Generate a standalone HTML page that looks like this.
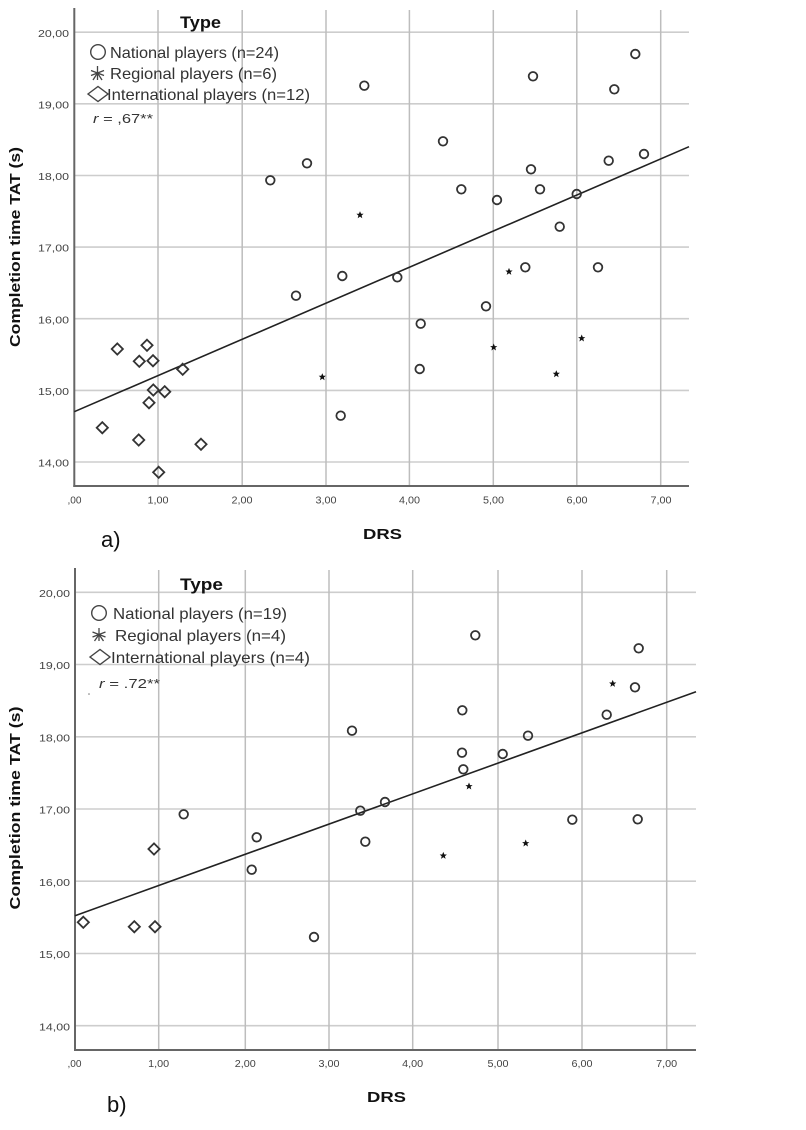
<!DOCTYPE html>
<html><head><meta charset="utf-8"><style>
html,body{margin:0;padding:0;background:#fff;}
svg{display:block;}
text{font-family:"Liberation Sans",Arial,sans-serif;}
</style></head><body>
<svg width="806" height="1130" viewBox="0 0 806 1130" xmlns="http://www.w3.org/2000/svg">
<defs>
<circle id="c" cx="0" cy="0" r="4.3" fill="none" stroke="#333" stroke-width="1.8"/>
<polygon id="d" points="0,-5.6 5.6,0 0,5.6 -5.6,0" fill="none" stroke="#333" stroke-width="1.8"/>
<polygon id="s" points="0,-3.8 1.1,-1.2 3.6,-1.2 1.6,0.5 2.3,3.2 0,1.6 -2.3,3.2 -1.6,0.5 -3.6,-1.2 -1.1,-1.2" fill="#111"/>
</defs>

<!-- ================= TOP CHART ================= -->
<g stroke="#cdcdcd" stroke-width="1.6">
<line x1="74" y1="32.2" x2="689" y2="32.2"/>
<line x1="74" y1="103.8" x2="689" y2="103.8"/>
<line x1="74" y1="175.5" x2="689" y2="175.5"/>
<line x1="74" y1="247.1" x2="689" y2="247.1"/>
<line x1="74" y1="318.7" x2="689" y2="318.7"/>
<line x1="74" y1="390.4" x2="689" y2="390.4"/>
<line x1="74" y1="462" x2="689" y2="462"/>
</g>
<g stroke="#bdbdbd" stroke-width="1.5">
<line x1="158" y1="10" x2="158" y2="486"/>
<line x1="242.2" y1="10" x2="242.2" y2="486"/>
<line x1="326" y1="10" x2="326" y2="486"/>
<line x1="409.4" y1="10" x2="409.4" y2="486"/>
<line x1="493.3" y1="10" x2="493.3" y2="486"/>
<line x1="576.8" y1="10" x2="576.8" y2="486"/>
<line x1="660.7" y1="10" x2="660.7" y2="486"/>
</g>
<g stroke="#666" stroke-width="2">
<line x1="74.3" y1="8" x2="74.3" y2="487"/>
<line x1="73.3" y1="486" x2="689" y2="486"/>
</g>
<g font-size="10.5" fill="#444" text-anchor="end">
<text x="69" y="36.8" textLength="31" lengthAdjust="spacingAndGlyphs">20,00</text>
<text x="69" y="108.4" textLength="31" lengthAdjust="spacingAndGlyphs">19,00</text>
<text x="69" y="180.1" textLength="31" lengthAdjust="spacingAndGlyphs">18,00</text>
<text x="69" y="251.7" textLength="31" lengthAdjust="spacingAndGlyphs">17,00</text>
<text x="69" y="323.3" textLength="31" lengthAdjust="spacingAndGlyphs">16,00</text>
<text x="69" y="395" textLength="31" lengthAdjust="spacingAndGlyphs">15,00</text>
<text x="69" y="466.6" textLength="31" lengthAdjust="spacingAndGlyphs">14,00</text>
</g>
<g font-size="10" fill="#444">
<text x="67.5" y="503.5" textLength="14" lengthAdjust="spacingAndGlyphs">,00</text>
<text x="147.5" y="503.5" textLength="21" lengthAdjust="spacingAndGlyphs">1,00</text>
<text x="231.5" y="503.5" textLength="21" lengthAdjust="spacingAndGlyphs">2,00</text>
<text x="315.5" y="503.5" textLength="21" lengthAdjust="spacingAndGlyphs">3,00</text>
<text x="399" y="503.5" textLength="21" lengthAdjust="spacingAndGlyphs">4,00</text>
<text x="483" y="503.5" textLength="21" lengthAdjust="spacingAndGlyphs">5,00</text>
<text x="566.5" y="503.5" textLength="21" lengthAdjust="spacingAndGlyphs">6,00</text>
<text x="650.5" y="503.5" textLength="21" lengthAdjust="spacingAndGlyphs">7,00</text>
</g>
<text x="363" y="539" font-size="15" font-weight="bold" fill="#111" textLength="39" lengthAdjust="spacingAndGlyphs">DRS</text>
<text x="101" y="547" font-size="22" fill="#111">a)</text>
<text transform="translate(20,247) rotate(-90)" text-anchor="middle" font-size="15" font-weight="bold" fill="#111" textLength="200" lengthAdjust="spacingAndGlyphs">Completion time TAT (s)</text>

<!-- legend top -->
<text x="180" y="28" font-size="17" font-weight="bold" fill="#111" textLength="41" lengthAdjust="spacingAndGlyphs">Type</text>
<circle cx="98" cy="52" r="7.3" fill="none" stroke="#444" stroke-width="1.4"/>
<text x="110" y="58" font-size="16" fill="#333" textLength="169" lengthAdjust="spacingAndGlyphs">National players (n=24)</text>
<g stroke="#444" stroke-width="1.3"><line x1="97.5" y1="66" x2="97.5" y2="80"/><line x1="91" y1="70.5" x2="104" y2="75.5"/><line x1="104" y1="70.5" x2="91" y2="75.5"/><line x1="97.5" y1="73" x2="93" y2="80"/><line x1="97.5" y1="73" x2="102" y2="80"/></g>
<text x="110" y="79" font-size="16" fill="#333" textLength="167" lengthAdjust="spacingAndGlyphs">Regional players (n=6)</text>
<polygon points="88,94 98,86.5 108,94 98,101.5" fill="none" stroke="#444" stroke-width="1.4"/>
<text x="107" y="100" font-size="16" fill="#333" textLength="203" lengthAdjust="spacingAndGlyphs">International players (n=12)</text>
<text x="93" y="123" font-size="13" fill="#333" textLength="60" lengthAdjust="spacingAndGlyphs"><tspan font-style="italic">r</tspan> = ,67**</text>

<!-- regression top -->
<line x1="74.3" y1="411.7" x2="689" y2="146.7" stroke="#222" stroke-width="1.6"/>

<!-- markers top -->
<g>
<use href="#c" x="364.3" y="85.7"/><use href="#c" x="270.3" y="180.3"/><use href="#c" x="307" y="163.3"/>
<use href="#c" x="342.3" y="276"/><use href="#c" x="397.3" y="277.3"/><use href="#c" x="443" y="141.3"/>
<use href="#c" x="533" y="76.3"/><use href="#c" x="635.3" y="54"/><use href="#c" x="614.3" y="89.3"/>
<use href="#c" x="461.3" y="189.3"/><use href="#c" x="497" y="200"/><use href="#c" x="531" y="169.3"/>
<use href="#c" x="540" y="189.3"/><use href="#c" x="576.7" y="194"/><use href="#c" x="608.7" y="160.7"/>
<use href="#c" x="644" y="154"/><use href="#c" x="559.7" y="226.7"/><use href="#c" x="525.3" y="267.3"/>
<use href="#c" x="598" y="267.3"/><use href="#c" x="296" y="295.7"/><use href="#c" x="340.7" y="415.7"/>
<use href="#c" x="420.7" y="323.7"/><use href="#c" x="486" y="306.3"/><use href="#c" x="419.7" y="369"/>
<use href="#s" x="360" y="215"/><use href="#s" x="322.3" y="377"/><use href="#s" x="509" y="271.7"/>
<use href="#s" x="493.7" y="347.3"/><use href="#s" x="556.3" y="374"/><use href="#s" x="581.7" y="338.3"/>
<use href="#d" x="117.3" y="349"/><use href="#d" x="147" y="345.3"/><use href="#d" x="139.3" y="361.3"/>
<use href="#d" x="153" y="360.7"/><use href="#d" x="182.7" y="369.3"/><use href="#d" x="153.3" y="390"/>
<use href="#d" x="164.7" y="391.7"/><use href="#d" x="149" y="402.7"/><use href="#d" x="102.3" y="427.7"/>
<use href="#d" x="138.7" y="440"/><use href="#d" x="201" y="444.3"/><use href="#d" x="158.7" y="472.3"/>
</g>

<!-- ================= BOTTOM CHART ================= -->
<g stroke="#cdcdcd" stroke-width="1.6">
<line x1="75" y1="592.3" x2="696" y2="592.3"/>
<line x1="75" y1="664.5" x2="696" y2="664.5"/>
<line x1="75" y1="736.8" x2="696" y2="736.8"/>
<line x1="75" y1="809" x2="696" y2="809"/>
<line x1="75" y1="881.2" x2="696" y2="881.2"/>
<line x1="75" y1="953.5" x2="696" y2="953.5"/>
<line x1="75" y1="1025.7" x2="696" y2="1025.7"/>
</g>
<g stroke="#bdbdbd" stroke-width="1.5">
<line x1="158.7" y1="570" x2="158.7" y2="1050"/>
<line x1="245.3" y1="570" x2="245.3" y2="1050"/>
<line x1="329" y1="570" x2="329" y2="1050"/>
<line x1="412.7" y1="570" x2="412.7" y2="1050"/>
<line x1="498" y1="570" x2="498" y2="1050"/>
<line x1="582" y1="570" x2="582" y2="1050"/>
<line x1="666.7" y1="570" x2="666.7" y2="1050"/>
</g>
<g stroke="#666" stroke-width="2">
<line x1="75" y1="568" x2="75" y2="1051"/>
<line x1="74" y1="1050" x2="696" y2="1050"/>
</g>
<g font-size="10.5" fill="#444" text-anchor="end">
<text x="70" y="597" textLength="31" lengthAdjust="spacingAndGlyphs">20,00</text>
<text x="70" y="669.2" textLength="31" lengthAdjust="spacingAndGlyphs">19,00</text>
<text x="70" y="741.5" textLength="31" lengthAdjust="spacingAndGlyphs">18,00</text>
<text x="70" y="813.7" textLength="31" lengthAdjust="spacingAndGlyphs">17,00</text>
<text x="70" y="885.9" textLength="31" lengthAdjust="spacingAndGlyphs">16,00</text>
<text x="70" y="958.2" textLength="31" lengthAdjust="spacingAndGlyphs">15,00</text>
<text x="70" y="1030.4" textLength="31" lengthAdjust="spacingAndGlyphs">14,00</text>
</g>
<g font-size="10" fill="#444">
<text x="67.5" y="1067" textLength="14" lengthAdjust="spacingAndGlyphs">,00</text>
<text x="148.2" y="1067" textLength="21" lengthAdjust="spacingAndGlyphs">1,00</text>
<text x="234.8" y="1067" textLength="21" lengthAdjust="spacingAndGlyphs">2,00</text>
<text x="318.5" y="1067" textLength="21" lengthAdjust="spacingAndGlyphs">3,00</text>
<text x="402.2" y="1067" textLength="21" lengthAdjust="spacingAndGlyphs">4,00</text>
<text x="487.5" y="1067" textLength="21" lengthAdjust="spacingAndGlyphs">5,00</text>
<text x="571.5" y="1067" textLength="21" lengthAdjust="spacingAndGlyphs">6,00</text>
<text x="656.2" y="1067" textLength="21" lengthAdjust="spacingAndGlyphs">7,00</text>
</g>
<text x="367" y="1102" font-size="15" font-weight="bold" fill="#111" textLength="39" lengthAdjust="spacingAndGlyphs">DRS</text>
<text x="107" y="1112" font-size="22" fill="#111">b)</text>
<text transform="translate(20,808) rotate(-90)" text-anchor="middle" font-size="15" font-weight="bold" fill="#111" textLength="203" lengthAdjust="spacingAndGlyphs">Completion time TAT (s)</text>

<!-- legend bottom -->
<text x="180" y="590" font-size="17" font-weight="bold" fill="#111" textLength="43" lengthAdjust="spacingAndGlyphs">Type</text>
<circle cx="99" cy="613" r="7.3" fill="none" stroke="#444" stroke-width="1.4"/>
<text x="113" y="619" font-size="16" fill="#333" textLength="174" lengthAdjust="spacingAndGlyphs">National players (n=19)</text>
<g stroke="#444" stroke-width="1.3"><line x1="99" y1="628" x2="99" y2="641"/><line x1="92.5" y1="632" x2="105.5" y2="637"/><line x1="105.5" y1="632" x2="92.5" y2="637"/><line x1="99" y1="634.5" x2="94.5" y2="641"/><line x1="99" y1="634.5" x2="103.5" y2="641"/></g>
<text x="115" y="641" font-size="16" fill="#333" textLength="171" lengthAdjust="spacingAndGlyphs">Regional players (n=4)</text>
<polygon points="90,657 100,649.5 110,657 100,664.5" fill="none" stroke="#444" stroke-width="1.4"/>
<text x="111" y="663" font-size="16" fill="#333" textLength="199" lengthAdjust="spacingAndGlyphs">International players (n=4)</text>
<text x="99" y="688" font-size="13" fill="#333" textLength="61" lengthAdjust="spacingAndGlyphs"><tspan font-style="italic">r</tspan> = .72**</text>
<circle cx="89" cy="694" r="0.8" fill="#777"/>

<!-- regression bottom -->
<line x1="75" y1="915.7" x2="696" y2="691.7" stroke="#222" stroke-width="1.6"/>

<!-- markers bottom -->
<g>
<use href="#c" x="352" y="730.7"/><use href="#c" x="183.7" y="814.3"/><use href="#c" x="256.7" y="837.3"/>
<use href="#c" x="360.3" y="810.7"/><use href="#c" x="385" y="802"/><use href="#c" x="365.3" y="841.7"/>
<use href="#c" x="475.3" y="635.3"/><use href="#c" x="638.7" y="648.3"/><use href="#c" x="635" y="687.3"/>
<use href="#c" x="462.3" y="710.3"/><use href="#c" x="606.7" y="714.7"/><use href="#c" x="528" y="735.7"/>
<use href="#c" x="462" y="752.7"/><use href="#c" x="502.7" y="754"/><use href="#c" x="463.3" y="769.3"/>
<use href="#c" x="572.3" y="819.7"/><use href="#c" x="637.7" y="819.3"/><use href="#c" x="251.7" y="869.7"/>
<use href="#c" x="314" y="937"/>
<use href="#s" x="612.7" y="683.7"/><use href="#s" x="469" y="786.3"/><use href="#s" x="525.7" y="843.3"/>
<use href="#s" x="443.3" y="855.7"/>
<use href="#d" x="154" y="849"/><use href="#d" x="83.3" y="922.3"/><use href="#d" x="134.3" y="926.7"/>
<use href="#d" x="155" y="926.7"/>
</g>
</svg>
</body></html>
